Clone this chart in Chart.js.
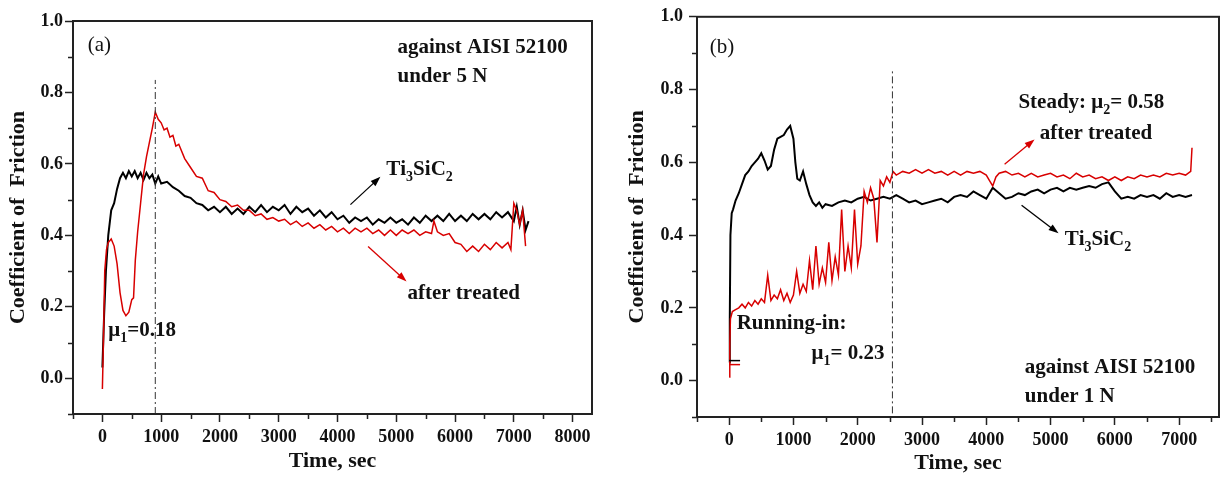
<!DOCTYPE html>
<html>
<head>
<meta charset="utf-8">
<script src="https://cdn.jsdelivr.net/npm/chart.js@4.4.0/dist/chart.umd.min.js"></script>
<style>
  html, body { margin: 0; padding: 0; background: #fff; }
  #wrap { position: relative; width: 1222px; height: 479px; }
  #wrap canvas { position: absolute; top: 0; }
  #chartA { left: 0; }
  #chartB { left: 611px; }
</style>
</head>
<body>
<div id="wrap">
  <canvas id="chartA" width="611" height="479"></canvas>
  <canvas id="chartB" width="611" height="479"></canvas>
</div>
<script>
// tick positions (labels only on the major ones)
var xTicksA = [-500, 0, 500, 1000, 1500, 2000, 2500, 3000, 3500, 4000, 4500, 5000, 5500, 6000, 6500, 7000, 7500, 8000];
var xTicksB = [-500, 0, 500, 1000, 1500, 2000, 2500, 3000, 3500, 4000, 4500, 5000, 5500, 6000, 6500, 7000, 7500];
var yTicks = [-0.1, 0.0, 0.1, 0.2, 0.3, 0.4, 0.5, 0.6, 0.7, 0.8, 0.9, 1.0];

// ---- panel (a): 5 N ----
// Ti3SiC2
var timeA1 = [0, 30, 60, 100, 150, 200, 250, 300, 350, 400,
    450, 500, 550, 600, 650, 700, 750, 800, 850, 900, 950, 1000,
    1100, 1200, 1300, 1400, 1500, 1600, 1700, 1800, 1900, 2000,
    2100, 2200, 2300, 2400, 2500, 2600, 2700, 2800, 2900, 3000,
    3100, 3200, 3300, 3400, 3500, 3600, 3700, 3800, 3900, 4000,
    4100, 4200, 4300, 4400, 4500, 4600, 4700, 4800, 4900, 5000,
    5100, 5200, 5300, 5400, 5500, 5600, 5700, 5800, 5900, 6000,
    6100, 6200, 6300, 6400, 6500, 6600, 6700, 6800, 6900, 7000,
    7050, 7100, 7150, 7200, 7250];
var cofA1 = [0.03, 0.18, 0.30, 0.40, 0.47, 0.49, 0.53, 0.56, 0.575, 0.56,
    0.58, 0.565, 0.58, 0.56, 0.575, 0.555, 0.575, 0.56, 0.57, 0.545, 0.565, 0.545,
    0.55, 0.535, 0.525, 0.51, 0.505, 0.49, 0.485, 0.47, 0.48, 0.465,
    0.48, 0.46, 0.475, 0.46, 0.48, 0.465, 0.485, 0.465, 0.48, 0.47,
    0.485, 0.46, 0.48, 0.465, 0.475, 0.455, 0.47, 0.45, 0.465, 0.445,
    0.455, 0.435, 0.45, 0.44, 0.45, 0.43, 0.445, 0.435, 0.45, 0.435,
    0.445, 0.43, 0.45, 0.435, 0.455, 0.44, 0.455, 0.44, 0.46, 0.44,
    0.455, 0.44, 0.46, 0.445, 0.46, 0.445, 0.465, 0.45, 0.465, 0.44,
    0.48, 0.43, 0.47, 0.415, 0.44];
// after treated
var timeA2 = [0, 20, 40, 70, 100, 150, 200, 250, 300, 350,
    400, 450, 500, 530, 560, 600, 650, 700, 750, 800,
    850, 900, 950, 1000, 1050, 1100, 1150, 1200, 1250, 1300,
    1400, 1500, 1600, 1700, 1800, 1900, 2000, 2100, 2200, 2300,
    2400, 2500, 2600, 2700, 2800, 2900, 3000, 3100, 3200, 3300,
    3400, 3500, 3600, 3700, 3800, 3900, 4000, 4100, 4200, 4300,
    4400, 4500, 4600, 4700, 4800, 4900, 5000, 5100, 5200, 5300,
    5400, 5500, 5600, 5640,
    5700, 5800, 5900, 6000, 6100, 6200, 6300, 6400, 6500, 6600, 6700, 6800, 6900,
    6950, 7000, 7050, 7100, 7150, 7200];
var cofA2 = [-0.03, 0.12, 0.30, 0.36, 0.38, 0.39, 0.37, 0.32, 0.24, 0.19,
    0.175, 0.185, 0.22, 0.225, 0.33, 0.41, 0.49, 0.57, 0.62, 0.66,
    0.70, 0.745, 0.725, 0.715, 0.695, 0.70, 0.675, 0.68, 0.65, 0.655,
    0.615, 0.59, 0.565, 0.56, 0.525, 0.52, 0.50, 0.495, 0.48, 0.485,
    0.47, 0.47, 0.455, 0.46, 0.445, 0.45, 0.44, 0.445, 0.43, 0.44,
    0.425, 0.435, 0.42, 0.43, 0.415, 0.425, 0.41, 0.42, 0.405, 0.42,
    0.41, 0.42, 0.405, 0.415, 0.40, 0.415, 0.40, 0.415, 0.405, 0.415,
    0.40, 0.41, 0.405, 0.44,
    0.41, 0.40, 0.405, 0.38, 0.375, 0.355, 0.37, 0.355, 0.375, 0.36, 0.38, 0.365, 0.38,
    0.36, 0.49, 0.47, 0.43, 0.47, 0.37];

// ---- panel (b): 1 N ----
// Ti3SiC2
var timeB1 = [0, 10, 20, 40, 60, 100,
    150, 200, 250, 300, 350, 400, 450, 500, 550, 600, 650, 700, 750, 800, 850, 900, 950, 1000,
    1030, 1060,
    1100, 1150, 1200, 1250, 1300, 1350, 1400, 1450, 1500,
    1600, 1700, 1800, 1900, 2000,
    2100, 2200, 2300, 2400, 2500, 2600, 2700, 2800, 2900, 3000,
    3100, 3200, 3300, 3400, 3500, 3600, 3700, 3800, 3900, 4000,
    4100, 4200, 4300, 4400, 4500, 4600, 4700, 4800, 4900, 5000,
    5100, 5200, 5300, 5400, 5500, 5600, 5700, 5800, 5900, 6000,
    6100, 6200, 6300, 6400, 6500, 6600, 6700, 6800, 6900, 7000,
    7100, 7200];
var cofB1 = [0.05, 0.17, 0.40, 0.46, 0.47, 0.495,
    0.515, 0.54, 0.565, 0.575, 0.59, 0.60, 0.61, 0.625, 0.605, 0.58, 0.59, 0.635, 0.665, 0.67, 0.675, 0.69, 0.70, 0.665,
    0.60, 0.555,
    0.55, 0.575, 0.54, 0.51, 0.49, 0.48, 0.49, 0.475, 0.485,
    0.48, 0.49, 0.495, 0.49, 0.50,
    0.505, 0.495, 0.50, 0.505, 0.50, 0.51, 0.50, 0.49, 0.495, 0.485,
    0.49, 0.495, 0.50, 0.49, 0.505, 0.51, 0.505, 0.52, 0.51, 0.50,
    0.53, 0.515, 0.50, 0.505, 0.515, 0.51, 0.52, 0.525, 0.515, 0.525,
    0.53, 0.52, 0.53, 0.525, 0.53, 0.535, 0.53, 0.54, 0.545, 0.52,
    0.50, 0.505, 0.50, 0.51, 0.505, 0.51, 0.50, 0.515, 0.505, 0.51,
    0.505, 0.51];
// after treated
var timeB2 = [0, 10, 20,
    50, 100, 150, 200, 250, 300, 350, 400, 450, 500,
    550, 600, 650, 700, 750, 800, 850, 900, 950, 1000,
    1050, 1100, 1150, 1200, 1250, 1300, 1350, 1400, 1450, 1500,
    1550, 1600, 1650, 1700, 1750, 1800, 1850, 1900, 1950, 2000,
    2050, 2100, 2150, 2200, 2250, 2300, 2350, 2400, 2450, 2500,
    2550, 2600,
    2700, 2800, 2900, 3000, 3100, 3200, 3300, 3400, 3500, 3600, 3700, 3800, 3900, 4000,
    4050, 4100, 4150,
    4200, 4300, 4400, 4500, 4600, 4700, 4800, 4900, 5000, 5100,
    5200, 5300, 5400, 5500, 5600, 5700, 5800, 5900, 6000, 6100,
    6200, 6300, 6400, 6500, 6600, 6700, 6800, 6900, 7000, 7100,
    7180, 7200];
var cofB2 = [0.01, 0.10, 0.17,
    0.19, 0.195, 0.20, 0.21, 0.20, 0.215, 0.205, 0.22, 0.21, 0.225,
    0.215, 0.29, 0.22, 0.235, 0.225, 0.25, 0.22, 0.24, 0.215, 0.235,
    0.30, 0.24, 0.265, 0.245, 0.33, 0.25, 0.37, 0.265, 0.31, 0.27,
    0.38, 0.275, 0.34, 0.29, 0.47, 0.30, 0.37, 0.31, 0.47, 0.32,
    0.37, 0.52, 0.49, 0.53, 0.50, 0.38, 0.55, 0.535, 0.56, 0.545,
    0.575, 0.565,
    0.575, 0.57, 0.58, 0.57, 0.58, 0.57, 0.575, 0.565, 0.575, 0.565, 0.575, 0.57, 0.575, 0.565,
    0.55, 0.535, 0.56,
    0.57, 0.575, 0.565, 0.57, 0.56, 0.57, 0.56, 0.565, 0.57, 0.56,
    0.565, 0.555, 0.57, 0.56, 0.565, 0.555, 0.56, 0.55, 0.56, 0.55,
    0.56, 0.555, 0.565, 0.56, 0.565, 0.56, 0.57, 0.565, 0.57, 0.565,
    0.575, 0.64];

var RED = "#d80000";
var INK = "#111";
var SERIF = '"Liberation Serif", "Times New Roman", serif';

function toPoints(times, values) {
    return times.map(function (t, i) { return { x: t, y: values[i] }; });
};

function isMajorX(v) { return v >= 0 && v % 1000 === 0; };
function isMajorY(v) { return Math.round(v * 10) % 2 === 0; };

// "Ti_3SiC_2" -> the char after "_" is set as subscript
function drawRich(ctx, x, y, text, size, weight) {
    var cx = x;
    for (var i = 0; i < text.length; i++) {
        var ch = text[i], sub = false;
        if (ch === "_") { sub = true; ch = text[++i]; }
        var s = sub ? Math.round(size * 0.66) : size;
        ctx.font = weight + " " + s + "px " + SERIF;
        ctx.fillText(ch, cx, y + (sub ? size * 0.28 : 0));
        cx += ctx.measureText(ch).width;
    }
};

function drawArrow(ctx, x1, y1, x2, y2, color) {
    var ang = Math.atan2(y2 - y1, x2 - x1), L = 10, W = 3.5;
    ctx.strokeStyle = color;
    ctx.fillStyle = color;
    ctx.lineWidth = 1.3;
    ctx.beginPath();
    ctx.moveTo(x1, y1);
    ctx.lineTo(x2 - 6 * Math.cos(ang), y2 - 6 * Math.sin(ang));
    ctx.stroke();
    ctx.beginPath();
    ctx.moveTo(x2, y2);
    ctx.lineTo(x2 - L * Math.cos(ang) + W * Math.sin(ang), y2 - L * Math.sin(ang) - W * Math.cos(ang));
    ctx.lineTo(x2 - L * Math.cos(ang) - W * Math.sin(ang), y2 - L * Math.sin(ang) + W * Math.cos(ang));
    ctx.closePath();
    ctx.fill();
};

// frame box, minor ticks, dash-dot marker, labels and arrows (all placed in data units)
var notesPlugin = {
    id: "notes",
    afterDatasetsDraw: function (chart, args, opts) {
        var ctx = chart.ctx, a = chart.chartArea;
        var xs = chart.scales.x, ys = chart.scales.y;
        var px = function (t) { return xs.getPixelForValue(t); };
        var py = function (v) { return ys.getPixelForValue(v); };
        ctx.save();

        (opts.stubs || []).forEach(function (s) {
            ctx.strokeStyle = s.color;
            ctx.lineWidth = 1.5;
            ctx.beginPath();
            ctx.moveTo(px(s.x0), py(s.y));
            ctx.lineTo(px(s.x1), py(s.y));
            ctx.stroke();
        });

        ctx.strokeStyle = "#333";
        ctx.lineWidth = 1;
        ctx.setLineDash([7, 3, 2, 3]);
        ctx.beginPath();
        ctx.moveTo(px(opts.marker.x), py(opts.marker.y0));
        ctx.lineTo(px(opts.marker.x), py(opts.marker.y1));
        ctx.stroke();
        ctx.setLineDash([]);

        ctx.strokeStyle = "#222";
        ctx.lineWidth = 2;
        ctx.strokeRect(a.left, a.top, a.right - a.left, a.bottom - a.top);

        // short minor ticks
        ctx.lineWidth = 1.5;
        ctx.beginPath();
        xs.ticks.forEach(function (t) {
            if (isMajorX(t.value)) return;
            var x = Math.round(px(t.value)) + 0.5;
            ctx.moveTo(x, a.bottom);
            ctx.lineTo(x, a.bottom + 5);
        });
        ys.ticks.forEach(function (t) {
            if (isMajorY(t.value)) return;
            var y = Math.round(py(t.value)) + 0.5;
            ctx.moveTo(a.left, y);
            ctx.lineTo(a.left - 5, y);
        });
        ctx.stroke();

        (opts.arrows || []).forEach(function (r) {
            drawArrow(ctx, px(r.x0), py(r.y0), px(r.x1), py(r.y1), r.color);
        });

        ctx.textBaseline = "alphabetic";
        ctx.textAlign = "left";
        (opts.labels || []).forEach(function (l) {
            ctx.fillStyle = INK;
            drawRich(ctx, px(l.x), py(l.y), l.text, l.size, l.weight || "bold");
        });
        ctx.restore();
    }
};

function makeChart(canvasId, sets, axis, notes) {
    var ctx = document.getElementById(canvasId).getContext("2d");
    var tickFont = { family: SERIF, size: 18, weight: "bold" };
    var titleFont = { family: SERIF, size: 22, weight: "bold" };

    return new Chart(ctx, {
        type: "line",
        data: {
            datasets: [
                { label: "after treated", data: toPoints(sets.t2, sets.v2), borderColor: RED, borderWidth: 1.5 },
                { label: "Ti3SiC2", data: toPoints(sets.t1, sets.v1), borderColor: "#000", borderWidth: 2 }
            ]
        },
        options: {
            responsive: false,
            animation: false,
            devicePixelRatio: 1,
            layout: { padding: { left: 0, top: axis.top, right: axis.right, bottom: 0 } },
            elements: { point: { radius: 0 }, line: { tension: 0 } },
            plugins: {
                legend: { display: false },
                tooltip: { enabled: false },
                notes: notes
            },
            scales: {
                x: {
                    type: "linear",
                    min: -500,
                    max: axis.xMax,
                    afterBuildTicks: function (scale) {
                        scale.ticks = axis.xTicks.map(function (v) { return { value: v }; });
                    },
                    afterFit: function (scale) { scale.height = axis.xHeight; },
                    border: { display: true, color: "#222", width: 2 },
                    grid: {
                        drawOnChartArea: false, drawTicks: true, tickLength: 8, tickWidth: 1.5,
                        tickColor: function (c) { return c.tick && isMajorX(c.tick.value) ? "#222" : "rgba(0,0,0,0)"; }
                    },
                    ticks: {
                        autoSkip: false,
                        maxRotation: 0,
                        padding: 5,
                        color: INK,
                        font: tickFont,
                        callback: function (v) { return isMajorX(v) ? String(v) : ""; }
                    },
                    title: { display: true, text: "Time, sec", color: INK, font: titleFont, padding: { top: 0, bottom: axis.xTitlePad } }
                },
                y: {
                    min: -0.1,
                    max: 1.0,
                    afterBuildTicks: function (scale) {
                        scale.ticks = yTicks.map(function (v) { return { value: v }; });
                    },
                    afterFit: function (scale) { scale.width = axis.yWidth; },
                    border: { display: true, color: "#222", width: 2 },
                    grid: {
                        drawOnChartArea: false, drawTicks: true, tickLength: 8, tickWidth: 1.5,
                        tickColor: function (c) { return c.tick && isMajorY(c.tick.value) ? "#222" : "rgba(0,0,0,0)"; }
                    },
                    ticks: {
                        autoSkip: false,
                        padding: axis.yTickPad,
                        color: INK,
                        font: tickFont,
                        callback: function (v) { return isMajorY(v) ? v.toFixed(1) : ""; }
                    },
                    title: { display: true, text: "Coefficient of  Friction", color: INK, font: titleFont, padding: { top: axis.yTitlePad, bottom: 0 } }
                }
            }
        },
        plugins: [notesPlugin]
    });
};

makeChart("chartA",
    { t1: timeA1, v1: cofA1, t2: timeA2, v2: cofA2 },
    { top: 21, right: 19, xMax: 8330, xTicks: xTicksA, xHeight: 65, yWidth: 73, xTitlePad: 4, yTitlePad: 5, yTickPad: 2 },
    {
        marker: { x: 900, y0: -0.1, y1: 0.835 },
        labels: [
            { x: -250, y: 0.915, text: "(a)", size: 21, weight: "normal" },
            { x: 5020, y: 0.911, text: "against AISI 52100", size: 21 },
            { x: 5020, y: 0.83, text: "under 5 N", size: 21 },
            { x: 4830, y: 0.57, text: "Ti_3SiC_2", size: 21 },
            { x: 5190, y: 0.223, text: "after treated", size: 21 },
            { x: 100, y: 0.117, text: "μ_1=0.18", size: 21 }
        ],
        arrows: [
            { x0: 4220, y0: 0.486, x1: 4730, y1: 0.564, color: "#000" },
            { x0: 4520, y0: 0.369, x1: 5175, y1: 0.271, color: RED }
        ]
    });

makeChart("chartB",
    { t1: timeB1, v1: cofB1, t2: timeB2, v2: cofB2 },
    { top: 15, right: 3, xMax: 7620, xTicks: xTicksB, xHeight: 62, yWidth: 86, xTitlePad: 2, yTitlePad: 13, yTickPad: 6 },
    {
        marker: { x: 2540, y0: -0.09, y1: 0.855 },
        stubs: [
            { x0: 0, x1: 170, y: 0.055, color: "#000" },
            { x0: 0, x1: 170, y: 0.044, color: RED }
        ],
        labels: [
            { x: -300, y: 0.9, text: "(b)", size: 21, weight: "normal" },
            { x: 4500, y: 0.748, text: "Steady: μ_2= 0.58", size: 21 },
            { x: 4830, y: 0.663, text: "after treated", size: 21 },
            { x: 5220, y: 0.373, text: "Ti_3SiC_2", size: 21 },
            { x: 4600, y: 0.022, text: "against AISI 52100", size: 21 },
            { x: 4600, y: -0.06, text: "under 1 N", size: 21 },
            { x: 117, y: 0.142, text: "Running-in:", size: 21 },
            { x: 1283, y: 0.06, text: "μ_1= 0.23", size: 21 }
        ],
        arrows: [
            { x0: 4285, y0: 0.595, x1: 4751, y1: 0.663, color: RED },
            { x0: 4549, y0: 0.482, x1: 5124, y1: 0.405, color: "#000" }
        ]
    });
</script>
</body>
</html>
